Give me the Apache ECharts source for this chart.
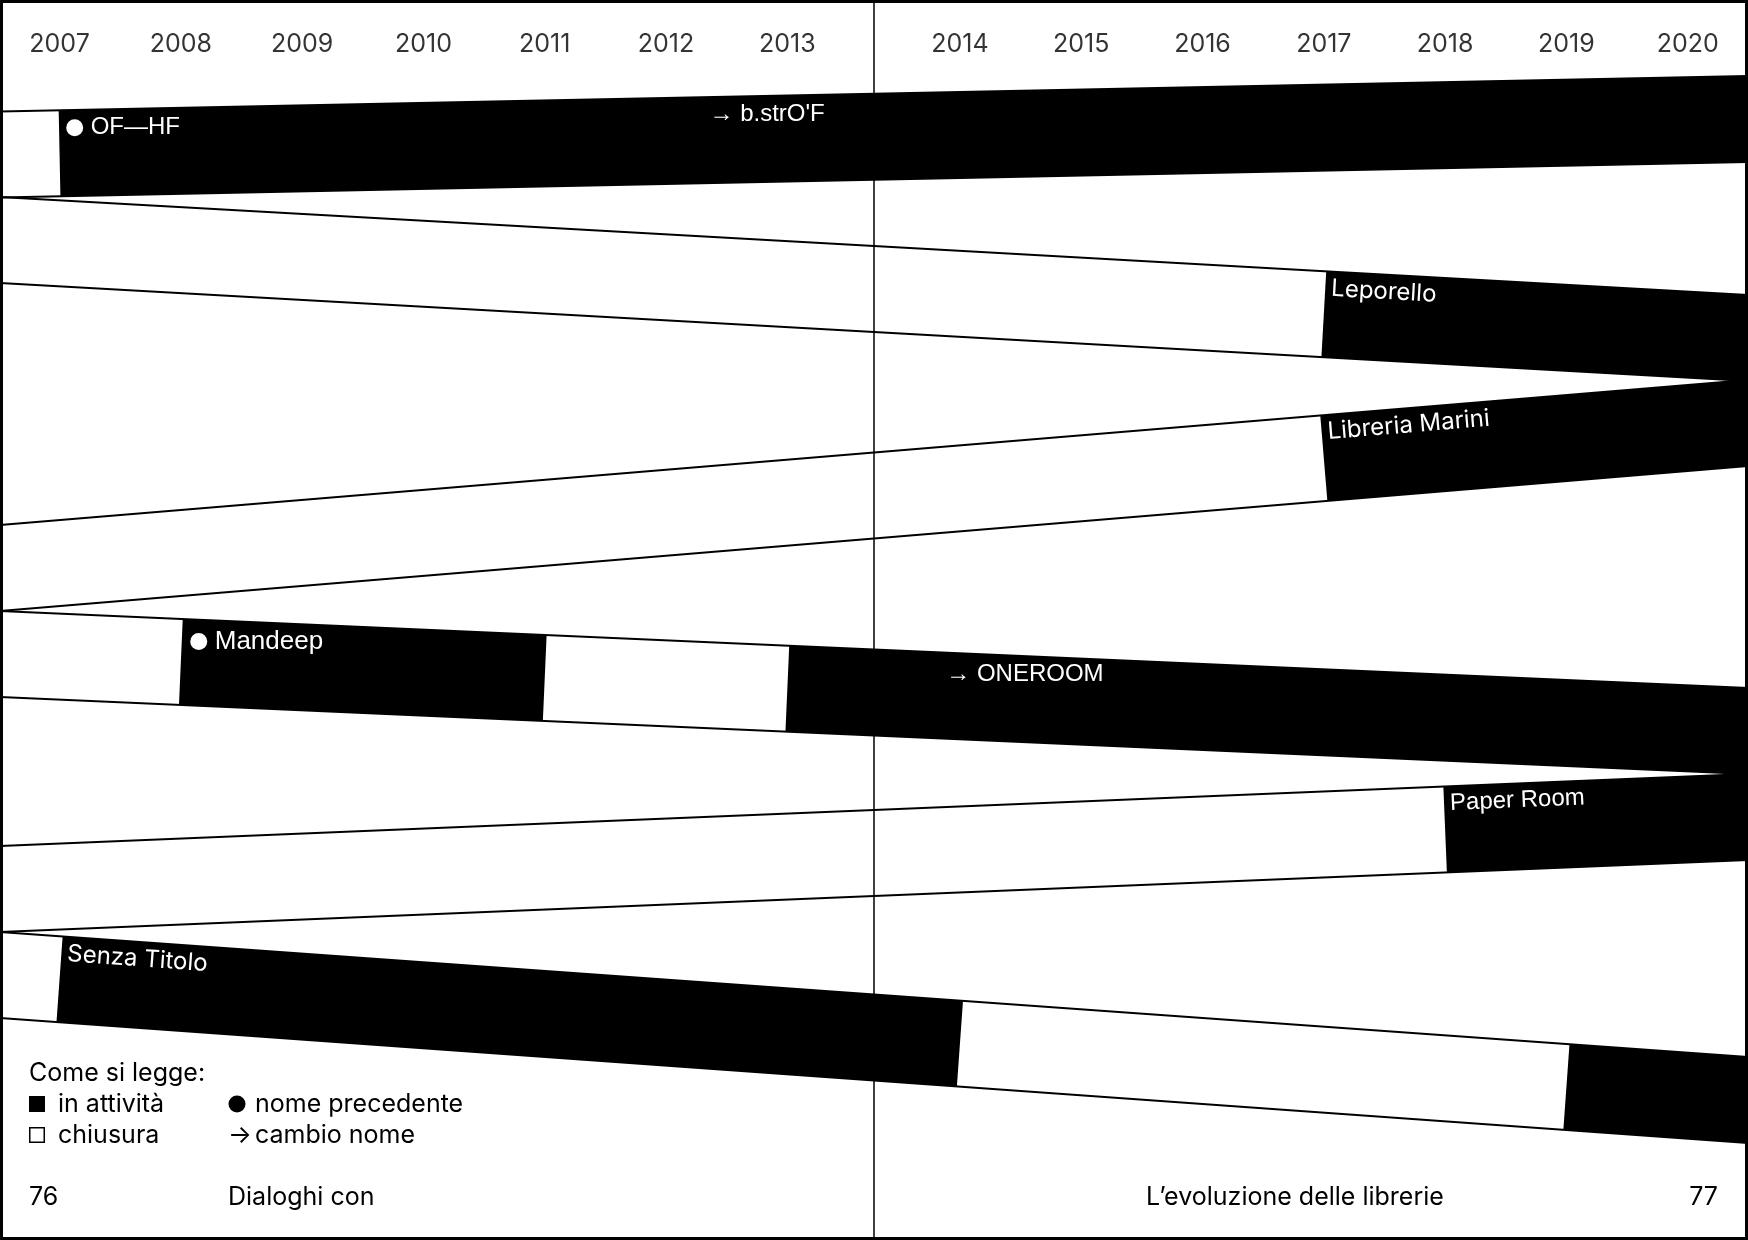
<!DOCTYPE html>
<html>
<head>
<meta charset="utf-8">
<title>L'evoluzione delle librerie</title>
<script src="https://cdn.jsdelivr.net/npm/echarts@6.0.0/dist/echarts.min.js"></script>
<style>
    html, body { margin: 0; padding: 0; background: #fff; }
    #chart { width: 1748px; height: 1240px; }
</style>
</head>
<body>
<div id="chart"></div>
<script>
// anni in testa alla doppia pagina
var years = [2007, 2008, 2009, 2010, 2011, 2012, 2013, 2014, 2015, 2016, 2017, 2018, 2019, 2020];

// una fascia per libreria
var storeNames = ['OF—HF', 'Leporello', 'Libreria Marini', 'Mandeep', 'Paper Room', 'Senza Titolo'];
// periodi in attività: apertura / chiusura (null = ancora aperta)
var openYears  = [[2007], [2017], [2017], [2008, 2013], [2018], [2007, 2019]];
var closeYears = [[null], [null], [null], [2011, null], [null], [2014, null]];
// pallino = nome precedente
var hasOldName = [true, false, false, true, false, false];
// cambi di nome
var renameStore = [0, 3];
var renameYear  = [2013, 2013];
var renameName  = ["b.strO'F", 'ONEROOM'];

// impaginazione (non dati)
var leftPageYears = 7;          // 2007-2013 a sinistra, il resto oltre la piega
var gutterGap = 0.423;          // spazio extra della piega, in anni
var xMin = -0.491, xMax = 13.92;
var yearRowY = 44;
var laneLeft  = [111.5, 197, 525, 611, 846, 932];
var laneRight = [76, 295, 380, 688, 774, 1057];
var laneH = 86;
var tiltLabel = [false, true, true, false, true, true];
var labelFont = ['Liberation Sans', 'Inter', 'Inter', 'Liberation Sans', 'Liberation Sans', 'Inter'];
var labelSize = [24, 24, 24, 26, 24, 24];
var renameDx = [-77, 157];

function yearPos(y) {
    var k = y - years[0];
    return k + (k >= leftPageYears ? gutterGap : 0);
}

function renderBand(params, api) {
    var i = params.dataIndex;
    var pL = api.coord([xMin, laneLeft[i]]);
    var pR = api.coord([xMax, laneRight[i]]);
    var h = api.coord([xMin, laneLeft[i] + laneH])[1] - pL[1];
    var x0 = pL[0], x1 = pR[0];
    var s = (pR[1] - pL[1]) / (x1 - x0);
    function yTop(x) { return pL[1] + s * (x - x0); }
    // taglio perpendicolare alla fascia in corrispondenza di un anno
    function cut(year) {
        if (year == null) return { top: [x1, yTop(x1)], bot: [x1, yTop(x1) + h] };
        var xm = api.coord([yearPos(year), 0])[0];
        var ym = yTop(xm) + h / 2;
        var t = (h / 2) / (1 + s * s);
        return { top: [xm + s * t, ym - t], bot: [xm - s * t, ym + t] };
    }

    var children = [];
    openYears[i].forEach(function (y0, k) {
        var a = cut(y0), b = cut(closeYears[i][k]);
        children.push({
            type: 'polygon',
            shape: { points: [a.top, b.top, b.bot, a.bot] },
            style: { fill: '#000' }
        });
    });
    children.push({ type: 'line', shape: { x1: x0, y1: pL[1], x2: x1, y2: pR[1] }, style: { stroke: '#000', lineWidth: 1.8 } });
    children.push({ type: 'line', shape: { x1: x0, y1: pL[1] + h, x2: x1, y2: pR[1] + h }, style: { stroke: '#000', lineWidth: 1.8 } });

    var ang = Math.atan(s), c = Math.cos(ang), sn = Math.sin(ang);
    function place(year, dx, tilt) {
        var p = cut(year).top;
        if (tilt) return [p[0] + dx * c - 17 * sn, p[1] + dx * sn + 17 * c];
        return [p[0] + dx, yTop(p[0] + dx + 60) + 19];
    }
    function text(pt, str, tilt, font, size) {
        return {
            type: 'text', x: pt[0], y: pt[1], rotation: tilt ? -ang : 0,
            style: { text: str, fill: '#fff', fontSize: size, fontFamily: font, align: 'left', verticalAlign: 'middle' }
        };
    }

    // nome iniziale
    if (hasOldName[i]) {
        var pc = place(openYears[i][0], 16, tiltLabel[i]);
        children.push({ type: 'circle', shape: { cx: pc[0], cy: pc[1], r: 8.5 }, style: { fill: '#fff' } });
        children.push(text(place(openYears[i][0], 32, tiltLabel[i]), storeNames[i], tiltLabel[i], labelFont[i], labelSize[i]));
    } else {
        children.push(text(place(openYears[i][0], 6, tiltLabel[i]), storeNames[i], tiltLabel[i], labelFont[i], labelSize[i]));
    }
    // nuovo nome
    renameStore.forEach(function (st, k) {
        if (st !== i) return;
        children.push(text(place(renameYear[k], renameDx[k], false), '→ ' + renameName[k], false, 'Liberation Sans', 24));
    });

    return { type: 'group', children: children };
}

var chart = echarts.init(document.getElementById('chart'));

var txt = function (x, y, str, align) {
    return {
        type: 'text', x: x, y: y,
        style: { text: str, fill: '#000', fontSize: 25, fontFamily: 'Inter', align: align || 'left', verticalAlign: 'middle' }
    };
};

var option = {
    animation: false,
    backgroundColor: '#fff',
    grid: { left: 0, right: 0, top: 0, bottom: 0 },
    xAxis: { type: 'value', min: xMin, max: xMax, show: false },
    yAxis: { type: 'value', min: 0, max: 1240, inverse: true, show: false },
    series: [
        {
            type: 'custom',
            z: 2,
            silent: true,
            renderItem: renderBand,
            data: storeNames.map(function (n, i) { return [i]; })
        },
        {
            type: 'scatter',
            z: 3,
            silent: true,
            symbolSize: 1,
            itemStyle: { color: 'rgba(0,0,0,0)' },
            data: years.map(function (y) { return [yearPos(y), yearRowY]; }),
            label: {
                show: true,
                position: 'inside',
                formatter: function (p) { return years[p.dataIndex]; },
                color: '#000',
                fontSize: 25,
                fontFamily: 'Inter'
            },
            markLine: {
                silent: true,
                symbol: 'none',
                label: { show: false },
                lineStyle: { color: '#000', width: 1.5, type: 'solid' },
                data: [{ xAxis: (yearPos(years[leftPageYears - 1]) + yearPos(years[leftPageYears])) / 2 }]
            }
        }
    ],
    graphic: [
        { type: 'rect', z: 100, shape: { x: 1.5, y: 1.5, width: 1745, height: 1237 }, style: { fill: 'none', stroke: '#000', lineWidth: 3 } },
        // legenda
        txt(29, 1073, 'Come si legge:'),
        { type: 'rect', shape: { x: 29, y: 1096, width: 16, height: 16 }, style: { fill: '#000' } },
        txt(58, 1104, 'in attività'),
        { type: 'rect', shape: { x: 29.75, y: 1127.75, width: 14.5, height: 14.5 }, style: { fill: 'none', stroke: '#000', lineWidth: 1.5 } },
        txt(58, 1135, 'chiusura'),
        { type: 'circle', shape: { cx: 237, cy: 1104, r: 8.5 }, style: { fill: '#000' } },
        txt(255, 1104, 'nome precedente'),
        txt(228, 1135, '→'),
        txt(255, 1135, 'cambio nome'),
        // piede di pagina
        txt(29, 1197, '76'),
        txt(228, 1197, 'Dialoghi con'),
        txt(1146, 1197, 'L’evoluzione delle librerie'),
        txt(1718, 1197, '77', 'right')
    ]
};

chart.setOption(option);
</script>
</body>
</html>
